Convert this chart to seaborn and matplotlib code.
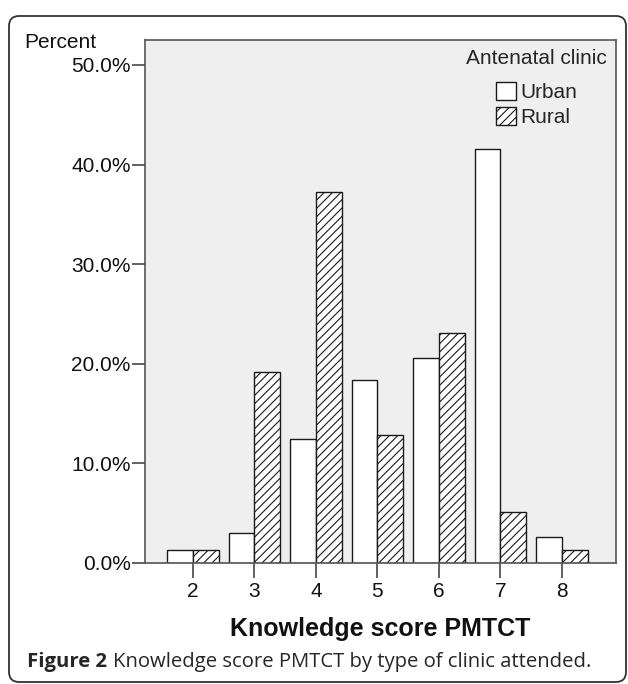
import numpy as np
import pandas as pd
import seaborn as sns
import matplotlib.pyplot as plt
from matplotlib.patches import Patch, FancyBboxPatch

# Data (percent within each clinic type)
scores = ['2', '3', '4', '5', '6', '7', '8']
urban = [1.3, 3.0, 12.4, 18.4, 20.6, 41.6, 2.6]
rural = [1.3, 19.2, 37.2, 12.8, 23.1, 5.1, 1.3]
clinics = ['Urban', 'Rural']
y_ticks = [0, 10, 20, 30, 40, 50]

df = pd.DataFrame({'Score': scores * 2,
                   'Percent': urban + rural,
                   'Clinic': ['Urban'] * len(scores) + ['Rural'] * len(scores)})

sns.set_theme(style='white')
plt.rcParams['font.family'] = ['Liberation Sans', 'DejaVu Sans']
plt.rcParams['hatch.linewidth'] = 0.8

W, H = 628, 684
fs = 15
fig = plt.figure(figsize=(W / 100, H / 100), dpi=100)
ax = fig.add_axes([145 / W, 1 - 563 / H, (616 - 145) / W, (563 - 40) / H])

sns.barplot(data=df, x='Score', y='Percent', hue='Clinic', order=scores, hue_order=clinics,
            palette={'Urban': 'white', 'Rural': 'white'}, saturation=1,
            edgecolor='#1a1a1a', linewidth=1.0, width=0.84, legend=False, ax=ax)
for bar in ax.containers[1]:
    bar.set_hatch('////')

ax.set_facecolor('#efefef')
ax.set_xlim(-0.78, 6.88)
ax.set_ylim(0, 52.5)
ax.set_yticks(y_ticks)
ax.set_yticklabels([f'{t:.1f}%' for t in y_ticks])
ax.set_ylabel('')
ax.set_xlabel('Knowledge score PMTCT', fontsize=18, fontweight='bold', color='#111111')
ax.xaxis.set_label_coords(0.5, -0.104)
for s in ax.spines.values():
    s.set_color('#555555')
    s.set_linewidth(1.2)
ax.tick_params(axis='y', left=True, length=9.4, width=1.3, color='#555555', pad=1,
               labelsize=fs, labelcolor='#111111')
ax.tick_params(axis='x', bottom=True, length=10.8, width=1.3, color='#555555', pad=3,
               labelsize=fs, labelcolor='#111111')

handles = [Patch(facecolor='white', edgecolor='#1a1a1a', label='Urban'),
           Patch(facecolor='white', edgecolor='#1a1a1a', hatch='////', label='Rural')]
leg = ax.legend(handles=handles, title='Antenatal clinic', loc='upper right',
                bbox_to_anchor=(1.0, 1.0), frameon=False,
                prop={'size': fs}, title_fontproperties={'size': fs},
                handlelength=0.96, handleheight=0.92, handletextpad=0.2, labelspacing=0.25,
                alignment='center', borderpad=0, borderaxespad=0.45)
# more room between the legend title and the entries
leg._legend_box.sep = 10

fig.text(24 / W, 1 - 42 / H, 'Percent', fontsize=fs, va='center', ha='left', color='#111111')

# Caption
cap_y = 1 - 662 / H
cap_font = ['Open Sans', 'DejaVu Sans']
t1 = fig.text(27 / W, cap_y, 'Figure 2', fontsize=14.6, fontweight='bold', va='center',
              family=cap_font)
fig.canvas.draw()
bb = t1.get_window_extent(fig.canvas.get_renderer())
fig.text((bb.x1 + 6) / W, cap_y, 'Knowledge score PMTCT by type of clinic attended.',
         fontsize=14.6, va='center', family=cap_font)

# Rounded outer frame
frame = FancyBboxPatch((0.09, 0.02), 6.17, 6.66, boxstyle='round,pad=0,rounding_size=0.1',
                       transform=fig.dpi_scale_trans, facecolor='none',
                       edgecolor='#333333', linewidth=1.3, clip_on=False)
fig.patches.append(frame)

fig.savefig('out.png', dpi=100)
